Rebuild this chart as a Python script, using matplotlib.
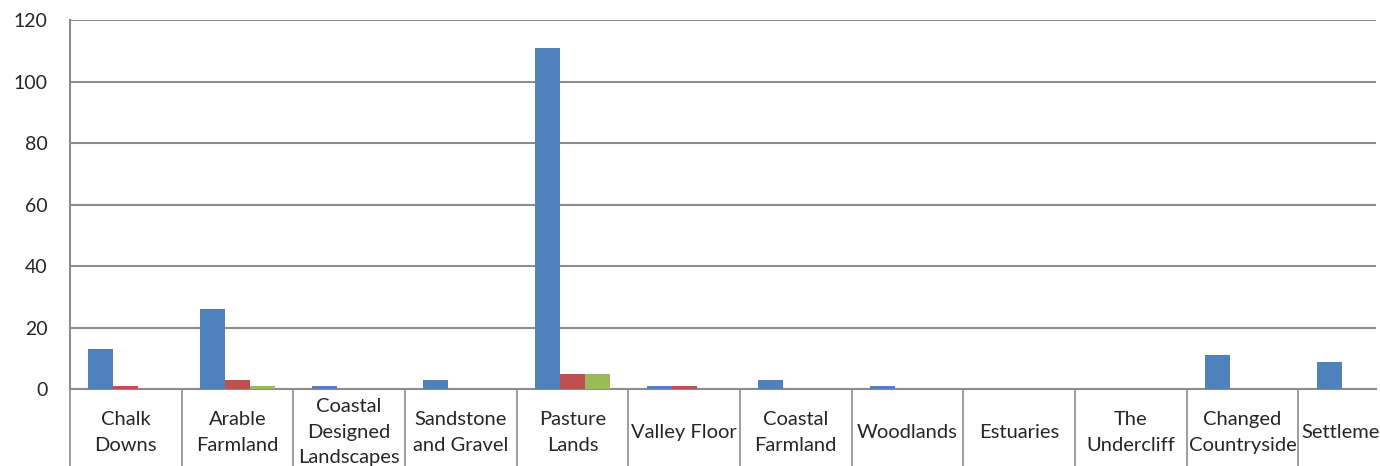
import matplotlib
matplotlib.use("Agg")
import matplotlib.pyplot as plt
import numpy as np

categories = [
    "Chalk\nDowns", "Arable\nFarmland", "Coastal\nDesigned\nLandscapes",
    "Sandstone\nand Gravel", "Pasture\nLands", "Valley Floor",
    "Coastal\nFarmland", "Woodlands", "Estuaries", "The\nUndercliff",
    "Changed\nCountryside", "Settlements",
]
series_1 = [13, 26, 1, 3, 111, 1, 3, 1, 0, 0, 11, 9]
series_2 = [1, 3, 0, 0, 5, 1, 0, 0, 0, 0, 0, 0]
series_3 = [0, 1, 0, 0, 5, 0, 0, 0, 0, 0, 0, 0]
y_ticks = [0, 20, 40, 60, 80, 100, 120]

colors = ["#4F81BD", "#C0504D", "#9BBB59"]
grid_color = "#8C8C8C"
text_color = "#262626"

plt.rcParams["font.family"] = ["Lato", "DejaVu Sans"]

fig = plt.figure(figsize=(13.8, 4.66), dpi=100)
ax = fig.add_axes([70 / 1380, (466 - 389.3) / 466, 1306 / 1380, 369 / 466])

x = np.arange(len(categories))
w = 0.224
for i, vals in enumerate([series_1, series_2, series_3]):
    ax.bar(x + (i - 1) * w, vals, width=w, color=colors[i], linewidth=0, zorder=3)

ax.set_ylim(0, 120)
ax.set_xlim(-0.5, 1306 / 111.66 - 0.5)
ax.set_yticks(y_ticks)
ax.set_yticklabels([str(v) for v in y_ticks], fontsize=14, color=text_color)
ax.tick_params(axis="y", length=0, pad=16)
ax.yaxis.grid(True, color=grid_color, linewidth=1.5, zorder=0)

ax.set_xticks(x)
ax.set_xticklabels(categories, fontsize=14.5, color=text_color, va="center",
                   linespacing=1.6)
ax.tick_params(axis="x", which="major", length=0, pad=31)
ax.set_xticks(np.arange(-0.5, len(categories) - 0.5, 1.0), minor=True)
ax.tick_params(axis="x", which="minor", length=60, width=1.2, color=grid_color,
               direction="out")

for side in ["top", "right"]:
    ax.spines[side].set_visible(False)
for side in ["left", "bottom"]:
    ax.spines[side].set_color(grid_color)
    ax.spines[side].set_linewidth(1.5)
ax.spines["left"].set_bounds(0, 120)

fig.savefig("out.png", dpi=100)
